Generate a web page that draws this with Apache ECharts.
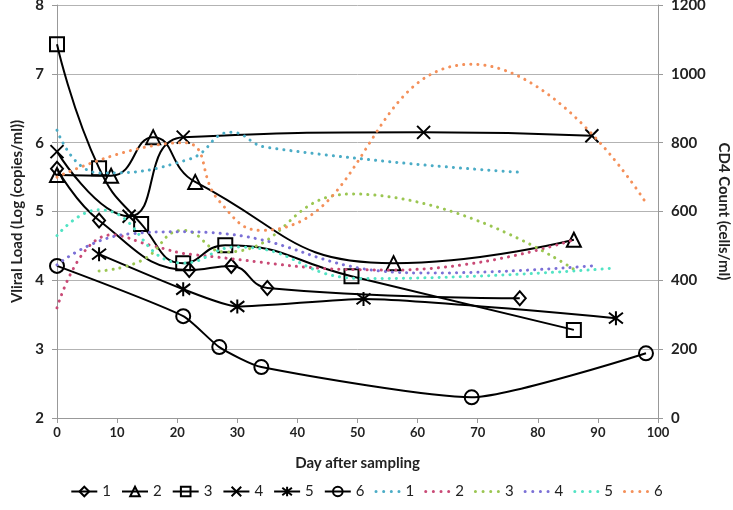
<!DOCTYPE html>
<html><head><meta charset="utf-8">
<script src="https://cdn.jsdelivr.net/npm/echarts@6/dist/echarts.min.js"></script>
<style>html,body{margin:0;padding:0;background:#fff}#c{width:733px;height:510px}</style>
</head><body><div id="c"></div>
<script>
// Viral load (log copies/ml) per patient
const vlDays1 = [0, 7, 22, 29, 35, 77];
const vlVals1 = [5.62, 4.87, 4.15, 4.21, 3.89, 3.74];
const vlDays2 = [0, 9, 16, 23, 56, 86];
const vlVals2 = [5.53, 5.52, 6.08, 5.43, 4.25, 4.59];
const vlDays3 = [0, 7, 14, 21, 28, 49, 86];
const vlVals3 = [7.43, 5.63, 4.82, 4.25, 4.51, 4.06, 3.28];
const vlDays4 = [0, 12, 21, 61, 89];
const vlVals4 = [5.87, 4.93, 6.08, 6.15, 6.1];
const vlDays5 = [7, 21, 30, 51, 93];
const vlVals5 = [4.38, 3.87, 3.62, 3.73, 3.45];
const vlDays6 = [0, 21, 27, 34, 69, 98];
const vlVals6 = [4.21, 3.48, 3.03, 2.74, 2.3, 2.94];
// CD4 count (cells/ml) per patient
const cdDays1 = [0, 7, 22, 29, 35, 77];
const cdVals1 = [836, 712, 752, 830, 786, 714];
const cdDays2 = [0, 9, 16, 23, 56, 86];
const cdVals2 = [320, 532, 500, 474, 430, 518];
const cdDays3 = [7, 14, 21, 28, 49, 86];
const cdVals3 = [427, 457, 545, 482, 651, 432];
const cdDays4 = [0, 12, 21, 61, 89];
const cdVals4 = [445, 535, 541, 421, 442];
const cdDays5 = [0, 7, 21, 30, 51, 93];
const cdVals5 = [530, 605, 450, 497, 405, 436];
const cdDays6 = [0, 21, 27, 34, 69, 98];
const cdVals6 = [700, 800, 630, 545, 1028, 625];

const legendNames = ['1', '2', '3', '4', '5', '6'];
const xTicks = {min: 0, max: 100, step: 10};
const vlAxis = {min: 2, max: 8, step: 1};
const cdAxis = {min: 0, max: 1200, step: 200};

const zip = (d, v) => d.map((x, i) => [x, v[i]]);
const FONT = 'Lato, "Open Sans", sans-serif';

const vlSets = [[vlDays1, vlVals1], [vlDays2, vlVals2], [vlDays3, vlVals3], [vlDays4, vlVals4], [vlDays5, vlVals5], [vlDays6, vlVals6]];
const cdSets = [[cdDays1, cdVals1], [cdDays2, cdVals2], [cdDays3, cdVals3], [cdDays4, cdVals4], [cdDays5, cdVals5], [cdDays6, cdVals6]];
const symbols = [
  ['diamond', [12, 14]],
  ['triangle', 14],
  ['rect', 14],
  ['path://M0,0L10,10M10,0L0,10', 13],
  ['path://M0,0L10,10M10,0L0,10M5,-1.5L5,11.5', 14],
  ['circle', 14]
];
const vlSmooth = [0.45, 0.5, 0.5, 0.5, 0.2, 0.2];
const cdColors = ['#4bacc6', '#c94a76', '#9bc652', '#7b70d6', '#52e3c4', '#f4905a'];
// legend icon: four round dots
const dotIcon = 'path://M0,1.5a1.5,1.5 0 1,0 3,0a1.5,1.5 0 1,0 -3,0z' +
  'M7.5,1.5a1.5,1.5 0 1,0 3,0a1.5,1.5 0 1,0 -3,0z' +
  'M15,1.5a1.5,1.5 0 1,0 3,0a1.5,1.5 0 1,0 -3,0z' +
  'M22.5,1.5a1.5,1.5 0 1,0 3,0a1.5,1.5 0 1,0 -3,0z';

const series = [];
const legendData = [];
vlSets.forEach((s, i) => {
  series.push({
    name: 'V' + legendNames[i], type: 'line', yAxisIndex: 0, smooth: vlSmooth[i],
    data: zip(s[0], s[1]),
    symbol: symbols[i][0], symbolSize: symbols[i][1], showAllSymbol: true,
    lineStyle: {color: '#000', width: 2},
    itemStyle: {color: 'rgba(255,255,255,0)', borderColor: '#000', borderWidth: 2},
    emphasis: {disabled: true}, z: 2
  });
  legendData.push({name: 'V' + legendNames[i]});
});
cdSets.forEach((s, i) => {
  series.push({
    name: 'C' + legendNames[i], type: 'line', yAxisIndex: 1, smooth: 0.5,
    data: zip(s[0], s[1]), symbol: 'none',
    lineStyle: {color: cdColors[i], width: 3, type: [0.1, 7], cap: 'round'},
    itemStyle: {color: cdColors[i]},
    emphasis: {disabled: true}, z: 3
  });
  legendData.push({name: 'C' + legendNames[i], icon: dotIcon, itemStyle: {color: cdColors[i]}});
});

const chart = echarts.init(document.getElementById('c'), null, {renderer: 'canvas'});
chart.setOption({
  animation: false,
  backgroundColor: '#fff',
  textStyle: {fontFamily: FONT},
  grid: {left: 57, right: 75, top: 5, bottom: 92, containLabel: false, outerBoundsMode: 'none'},
  legend: {
    bottom: 6, left: 'center', itemWidth: 26, itemHeight: 12, itemGap: 10,
    textStyle: {fontFamily: FONT, fontSize: 15, color: '#222'},
    formatter: n => n.slice(1),
    data: legendData
  },
  xAxis: {
    type: 'value', min: xTicks.min, max: xTicks.max, interval: xTicks.step,
    name: 'Day after sampling', nameLocation: 'middle', nameGap: 38,
    nameTextStyle: {fontFamily: FONT, fontWeight: 'bold', fontSize: 15, color: '#222'},
    axisLine: {lineStyle: {color: '#999'}},
    axisTick: {show: true, length: 5, lineStyle: {color: '#999'}},
    axisLabel: {fontFamily: FONT, fontWeight: 'bold', fontSize: 13, color: '#222', margin: 8},
    splitLine: {show: false}
  },
  yAxis: [{
    type: 'value', min: vlAxis.min, max: vlAxis.max, interval: vlAxis.step, position: 'left',
    name: 'Vliral Load (Log (copies/ml))', nameLocation: 'middle', nameGap: 32, nameRotate: 90,
    nameTextStyle: {fontFamily: FONT, fontWeight: 'bold', fontSize: 15, color: '#222'},
    axisLine: {show: true, lineStyle: {color: '#999'}},
    axisTick: {show: true, length: 5, lineStyle: {color: '#999'}},
    axisLabel: {fontFamily: FONT, fontWeight: 'bold', fontSize: 15, color: '#222', margin: 13},
    splitLine: {show: true, lineStyle: {color: '#b3b3b3', width: 1}}
  }, {
    type: 'value', min: cdAxis.min, max: cdAxis.max, interval: cdAxis.step, position: 'right',
    name: 'CD4 Count (cells/ml)', nameLocation: 'middle', nameGap: 55, nameRotate: -90,
    nameTextStyle: {fontFamily: FONT, fontWeight: 'bold', fontSize: 15, color: '#222'},
    axisLine: {show: true, lineStyle: {color: '#999'}},
    axisTick: {show: true, length: 5, lineStyle: {color: '#999'}},
    axisLabel: {fontFamily: FONT, fontWeight: 'bold', fontSize: 15, color: '#222', margin: 13,
      formatter: v => String(v)},
    splitLine: {show: false}
  }],
  series: series
});
</script></body></html>
